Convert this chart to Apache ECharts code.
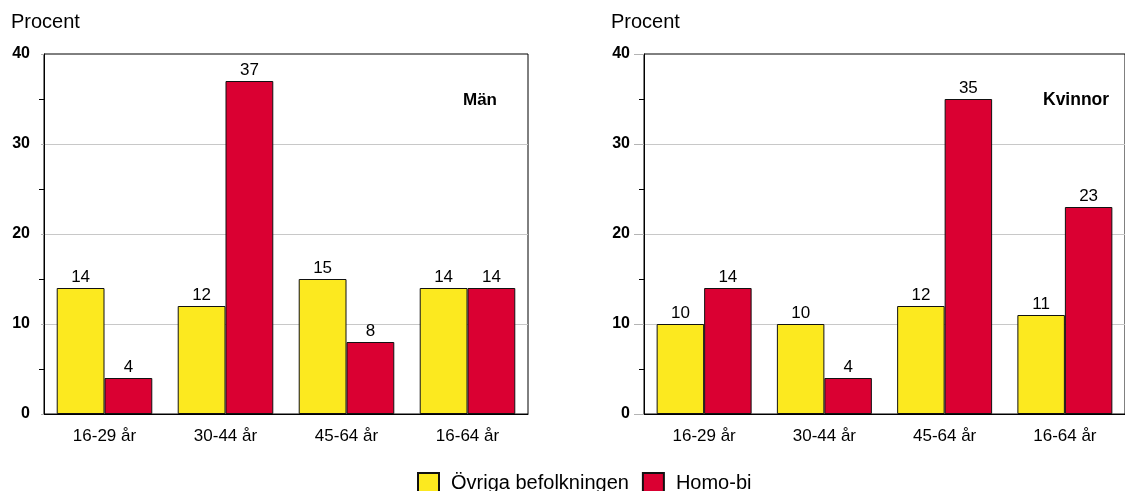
<!DOCTYPE html>
<html>
<head>
<meta charset="utf-8">
<script src="https://cdn.jsdelivr.net/npm/echarts@6/dist/echarts.min.js"></script>
<style>
html,body{margin:0;padding:0;background:#fff;}
#c{width:1125px;height:491px;}
</style>
</head>
<body>
<div id="c"></div>
<script>
const categories = ['16-29 år', '30-44 år', '45-64 år', '16-64 år'];
const menOvriga = [14, 12, 15, 14];
const menHomo = [4, 37, 8, 14];
const womenOvriga = [10, 10, 12, 11];
const womenHomo = [14, 4, 35, 23];
const seriesNames = ['Övriga befolkningen', 'Homo-bi'];
const panelTitles = ['Män', 'Kvinnor'];
const yTitle = 'Procent';

const YELLOW = '#FCE91F';
const RED = '#DA0032';
const FONT = 'Liberation Sans, Arial, sans-serif';

function xAxis(gi) {
  return {
    type: 'category', gridIndex: gi, data: categories,
    axisLine: {lineStyle: {color: '#000', width: 1}},
    axisTick: {alignWithLabel: true, length: 9, lineStyle: {color: '#000'}},
    axisLabel: {color: '#000', fontSize: 17, fontFamily: FONT, margin: 14}
  };
}
function yAxis(gi, tickLen) {
  return {
    type: 'value', gridIndex: gi, min: 0, max: 40, interval: 10,
    axisLine: {show: true, lineStyle: {color: '#000', width: 1}},
    axisTick: {show: true, length: tickLen, lineStyle: {color: '#b4b4b4'}},
    minorTick: {show: true, splitNumber: 2, length: 5, lineStyle: {color: '#000'}},
    splitLine: {show: true, showMinLine: false, showMaxLine: false, lineStyle: {color: '#c8c8c8', width: 1}},
    axisLabel: {color: '#000', fontSize: 16, fontWeight: 'bold', fontFamily: FONT, margin: 14}
  };
}
function bar(name, data, gi, color) {
  return {
    name: name, type: 'bar', xAxisIndex: gi, yAxisIndex: gi, data: data,
    barGap: '0%', barCategoryGap: '21%',
    itemStyle: {color: color, borderColor: '#111', borderWidth: 1},
    label: {show: true, position: 'top', distance: 2, color: '#000', fontSize: 17, fontFamily: FONT}
  };
}

const chart = echarts.init(document.getElementById('c'), null, {renderer: 'canvas'});
chart.setOption({
  animation: false,
  backgroundColor: '#fff',
  textStyle: {fontFamily: FONT},
  grid: [
    {left: 44, top: 54, width: 484, height: 360, show: true, borderColor: '#000', borderWidth: 1, backgroundColor: 'transparent'},
    {left: 644, top: 54, width: 484, height: 360, show: true, borderColor: '#000', borderWidth: 1, backgroundColor: 'transparent'}
  ],
  xAxis: [xAxis(0), xAxis(1)],
  yAxis: [yAxis(0, 3), yAxis(1, 10)],
  legend: {
    data: seriesNames, left: 412, top: 467, itemWidth: 21, itemHeight: 21, itemGap: 13,
    icon: 'rect',
    textStyle: {color: '#000', fontSize: 20, fontFamily: FONT, padding: [0, 0, 0, 7]}
  },
  graphic: [
    {type: 'text', left: 11, top: 12, style: {text: yTitle, fill: '#000', font: '20px ' + FONT}},
    {type: 'text', left: 611, top: 12, style: {text: yTitle, fill: '#000', font: '20px ' + FONT}},
    {type: 'text', left: 463, top: 92, style: {text: panelTitles[0], fill: '#000', font: 'bold 17px ' + FONT}},
    {type: 'text', left: 1043, top: 91, style: {text: panelTitles[1], fill: '#000', font: 'bold 17.5px ' + FONT}}
  ],
  series: [
    bar(seriesNames[0], menOvriga, 0, YELLOW),
    bar(seriesNames[1], menHomo, 0, RED),
    bar(seriesNames[0], womenOvriga, 1, YELLOW),
    bar(seriesNames[1], womenHomo, 1, RED)
  ]
});
</script>
</body>
</html>
